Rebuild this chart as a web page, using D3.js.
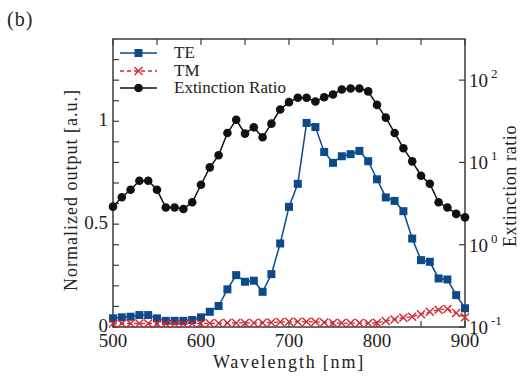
<!DOCTYPE html>
<html lang="en">
<head>
<meta charset="UTF-8">
<style>
  body { margin: 0; background: #fff; }
  svg text { font-family: "Liberation Serif", "Times New Roman", Times, serif; fill: #222; }
</style>
</head>
<body>
<svg width="520" height="376"></svg>
<script src="https://d3js.org/d3.v7.min.js"></script>
<script>
// wavelengths, every 10 nm
var wavelength = d3.range(500, 901, 10);

// TE normalized output
var te = [0.042, 0.047, 0.05, 0.058, 0.058, 0.042, 0.03, 0.03, 0.03, 0.034,
          0.047, 0.074, 0.102, 0.183, 0.252, 0.22, 0.225, 0.171, 0.257, 0.406,
          0.584, 0.696, 0.992, 0.972, 0.851, 0.798, 0.83, 0.84, 0.856, 0.806,
          0.718, 0.63, 0.613, 0.563, 0.43, 0.325, 0.317, 0.236, 0.231, 0.155,
          0.091];

// TM normalized output
var tm = [0.017, 0.017, 0.017, 0.017, 0.017, 0.017, 0.016, 0.016, 0.016, 0.017,
          0.017, 0.018, 0.018, 0.019, 0.02, 0.02, 0.02, 0.021, 0.022, 0.024,
          0.025, 0.026, 0.026, 0.025, 0.022, 0.02, 0.019, 0.019, 0.019, 0.018,
          0.021, 0.029, 0.037, 0.045, 0.05, 0.062, 0.074, 0.084, 0.088, 0.068,
          0.047];

// extinction ratio (right, log axis)
var ratio = [2.9, 3.78, 4.65, 5.98, 5.98, 4.65, 2.83, 2.83, 2.72, 3.28,
             5.35, 8.7, 12.2, 22.8, 33, 22.4, 26.7, 20.2, 29.6, 44,
             54, 61, 61, 55, 62, 67, 77, 79, 79, 73,
             50, 35, 22.8, 14.9, 10.3, 6.9, 5.5, 3.28, 2.83, 2.37,
             2.15];

var leftTicks = [0, 0.5, 1];
var rightTicks = [0.1, 1, 10, 100];
var xTicks = [500, 600, 700, 800, 900];

var margin = {top: 39, right: 55, bottom: 49, left: 113},
    W = 520, H = 376,
    x0 = margin.left, x1 = W - margin.right,
    y0 = H - margin.bottom, y1 = margin.top;

var axisColor = "#3a3a3a";
var blue = "#0c4a8a", red = "#d0282e", black = "#111";
var fs = 18;

var svg = d3.select("svg");

var x = d3.scaleLinear().domain([500, 900]).range([x0, x1]);
var y = d3.scaleLinear().domain([0, 1.4]).range([y0, y1]);
var yr = d3.scaleLog().domain([0.1, Math.pow(10, 2.5)]).range([y0, y1]);

// frame
svg.append("rect")
    .attr("x", x0).attr("y", y1)
    .attr("width", x1 - x0).attr("height", y0 - y1)
    .attr("fill", "none").attr("stroke", axisColor).attr("stroke-width", 1.5);

var tl = 6;
// bottom & top ticks, every 50 nm
d3.range(500, 901, 50).forEach(function(v) {
  svg.append("line").attr("x1", x(v)).attr("x2", x(v)).attr("y1", y0).attr("y2", y0 - tl)
     .attr("stroke", axisColor).attr("stroke-width", 1.2);
  svg.append("line").attr("x1", x(v)).attr("x2", x(v)).attr("y1", y1).attr("y2", y1 + tl)
     .attr("stroke", axisColor).attr("stroke-width", 1.2);
});
xTicks.forEach(function(v) {
  svg.append("text").attr("x", x(v)).attr("y", y0 + 20)
     .attr("text-anchor", "middle").attr("font-size", fs + 1).text(v);
});

// left ticks, every 0.1
d3.range(0, 14).forEach(function(i) {
  var v = i / 10;
  svg.append("line").attr("x1", x0).attr("x2", x0 + tl).attr("y1", y(v)).attr("y2", y(v))
     .attr("stroke", axisColor).attr("stroke-width", 1.2);
});
leftTicks.forEach(function(v) {
  svg.append("text").attr("x", x0 - 5).attr("y", y(v) + 5)
     .attr("text-anchor", "end").attr("font-size", fs + 1).text(v);
});

// right log ticks
rightTicks.forEach(function(v) {
  svg.append("line").attr("x1", x1).attr("x2", x1 - tl).attr("y1", yr(v)).attr("y2", yr(v))
     .attr("stroke", axisColor).attr("stroke-width", 1.2);
  var t = svg.append("text").attr("x", x1 + 4).attr("y", yr(v) + 7).attr("font-size", fs + 1);
  t.append("tspan").text("10");
  t.append("tspan").attr("dy", -9).attr("dx", 3).attr("font-size", 13)
   .text(Math.round(Math.log10(v)));
});

// axis titles
svg.append("text").attr("x", 7).attr("y", 26).attr("font-size", 20)
   .attr("letter-spacing", 1).text("(b)");
svg.append("text").attr("x", (x0 + x1) / 2).attr("y", 368)
   .attr("text-anchor", "middle").attr("font-size", fs).attr("letter-spacing", 1.8)
   .text("Wavelength [nm]");
svg.append("text").attr("transform", "translate(77,190) rotate(-90)")
   .attr("text-anchor", "middle").attr("font-size", fs).attr("letter-spacing", 1)
   .text("Normalized output [a.u.]");
svg.append("text").attr("transform", "translate(516,186) rotate(-90)")
   .attr("text-anchor", "middle").attr("font-size", fs).attr("letter-spacing", 0.6)
   .text("Extinction ratio");

// series
var lineL = function(vals) {
  return d3.line().x(function(d, i) { return x(wavelength[i]); })
                  .y(function(d) { return y(d); })(vals);
};
var lineR = d3.line().x(function(d, i) { return x(wavelength[i]); })
                     .y(function(d) { return yr(d); });

function crossPath(s) {
  return "M" + (-s) + "," + (-s) + "L" + s + "," + s + "M" + (-s) + "," + s + "L" + s + "," + (-s);
}

// TE
svg.append("path").attr("d", lineL(te)).attr("fill", "none")
   .attr("stroke", blue).attr("stroke-width", 1.5);
svg.selectAll(".te").data(te).enter().append("rect").attr("class", "te")
   .attr("x", function(d, i) { return x(wavelength[i]) - 4; })
   .attr("y", function(d) { return y(d) - 4; })
   .attr("width", 8).attr("height", 8).attr("fill", blue);

// TM
svg.append("path").attr("d", lineL(tm)).attr("fill", "none")
   .attr("stroke", red).attr("stroke-width", 1.3).attr("stroke-dasharray", "4,3");
svg.selectAll(".tm").data(tm).enter().append("path").attr("class", "tm")
   .attr("transform", function(d, i) { return "translate(" + x(wavelength[i]) + "," + y(d) + ")"; })
   .attr("d", crossPath(4)).attr("fill", "none").attr("stroke", red).attr("stroke-width", 1.4);

// extinction ratio
svg.append("path").attr("d", lineR(ratio)).attr("fill", "none")
   .attr("stroke", black).attr("stroke-width", 1.5);
svg.selectAll(".er").data(ratio).enter().append("circle").attr("class", "er")
   .attr("cx", function(d, i) { return x(wavelength[i]); })
   .attr("cy", function(d) { return yr(d); })
   .attr("r", 4.3).attr("fill", black);

// legend
var lg = svg.append("g");
var lx0 = 120, lx1 = 157, ltx = 174;
var rows = [{name: "TE", y: 53}, {name: "TM", y: 71}, {name: "Extinction Ratio", y: 88}];
lg.append("line").attr("x1", lx0).attr("x2", lx1).attr("y1", rows[0].y).attr("y2", rows[0].y)
  .attr("stroke", blue).attr("stroke-width", 1.5);
lg.append("rect").attr("x", (lx0 + lx1) / 2 - 4).attr("y", rows[0].y - 4)
  .attr("width", 8).attr("height", 8).attr("fill", blue);
lg.append("line").attr("x1", lx0).attr("x2", lx1).attr("y1", rows[1].y).attr("y2", rows[1].y)
  .attr("stroke", red).attr("stroke-width", 1.3).attr("stroke-dasharray", "4,3");
lg.append("path").attr("transform", "translate(" + (lx0 + lx1) / 2 + "," + rows[1].y + ")")
  .attr("d", crossPath(4)).attr("fill", "none").attr("stroke", red).attr("stroke-width", 1.4);
lg.append("line").attr("x1", lx0).attr("x2", lx1).attr("y1", rows[2].y).attr("y2", rows[2].y)
  .attr("stroke", black).attr("stroke-width", 1.5);
lg.append("circle").attr("cx", (lx0 + lx1) / 2).attr("cy", rows[2].y).attr("r", 4.3).attr("fill", black);
rows.forEach(function(r) {
  lg.append("text").attr("x", ltx).attr("y", r.y + 5).attr("font-size", 17).text(r.name);
});
</script>
</body>
</html>
